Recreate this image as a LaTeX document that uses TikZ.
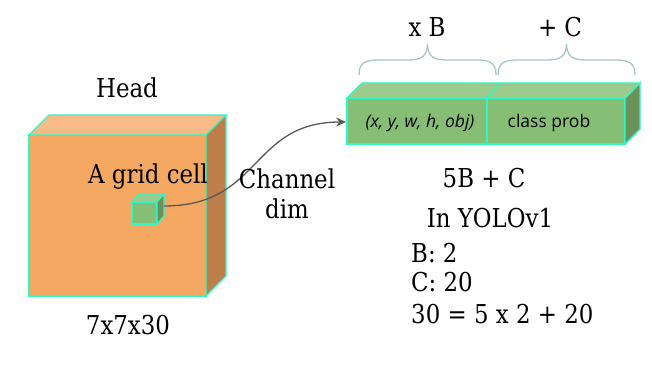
\documentclass[tikz,border=0pt]{standalone}
\usepackage{fontspec}
\setmainfont{DejaVu Serif}[FakeStretch=0.88]
\newfontfamily\opensans{Open Sans}
\usetikzlibrary{arrows.meta}
\definecolor{edgec}{HTML}{2EF7C6}
\definecolor{orF}{HTML}{F5A862}
\definecolor{orT}{HTML}{F8BA86}
\definecolor{orS}{HTML}{BE7F4B}
\definecolor{grF}{HTML}{86BE75}
\definecolor{grT}{HTML}{9CCB8D}
\definecolor{grS}{HTML}{6A9359}
\definecolor{bracec}{HTML}{A8C5CA}
\definecolor{arrc}{HTML}{595959}
\newcommand\mytxt{\fontsize{26}{30}\selectfont}
\newcommand\mysans{\opensans\fontsize{17.5}{20}\selectfont}
\tikzset{
  txt/.style={inner sep=0pt, font=\mytxt},
  sanstxt/.style={inner sep=0pt, font=\mysans},
  face/.style={draw=edgec, line width=1.4pt, line join=miter},
  bracepath/.style={draw=bracec, line width=1.3pt},
  conn/.style={draw=arrc, line width=1.3pt, -{Stealth[length=10pt,width=9pt,inset=3.5pt]}}
}
\begin{document}
\begin{tikzpicture}[x=1pt,y=-1pt]
\useasboundingbox (0,0) rectangle (652,366);
% big cube
\path[face, fill=orF] (29,135) rectangle (206,296);
\path[face, fill=orT] (29,135) -- (49,115) -- (226,115) -- (206,135) -- cycle;
\path[face, fill=orS] (206,135) -- (226,115) -- (226,276) -- (206,296) -- cycle;
% small cube
\path[face, fill=grF, line width=1.2pt] (132,202) rectangle (157,224);
\path[face, fill=grT, line width=1.2pt] (132,202) -- (139,194) -- (164,194) -- (157,202) -- cycle;
\path[face, fill=grS, line width=1.2pt] (157,202) -- (164,194) -- (164,216) -- (157,224) -- cycle;
% bar
\path[face, fill=grF] (347,98) rectangle (625,144);
\path[face, fill=grT] (347,98) -- (362,83) -- (640,83) -- (625,98) -- cycle;
\path[face, fill=grS] (625,98) -- (640,83) -- (640,129) -- (625,144) -- cycle;
\draw[face] (487,98) -- (487,144);
\draw[face] (487,98) -- (500,83);
% braces
\draw[bracepath] (359,75) .. controls (359,64) and (364,60) .. (378,60) -- (408,60) .. controls (422,60) and (427,56) .. (427.5,44) .. controls (428,56) and (433,60) .. (447,60) -- (477,60) .. controls (491,60) and (496,64) .. (496,75);
\draw[bracepath] (498,75) .. controls (498,64) and (503,60) .. (517,60) -- (547,60) .. controls (561,60) and (566,56) .. (566.5,44) .. controls (567,56) and (572,60) .. (586,60) -- (616,60) .. controls (630,60) and (635,64) .. (635,75);
% connector
\coordinate (cellR) at (164,206);
\coordinate (barL) at (346,122);
\draw[conn] (cellR) .. controls (262,206) and (250,122) .. (barL);
% texts
\node[txt] (head) at (127,88) {Head};
\node[txt] (cell) at (148,177) {A grid cell};
\node[txt, align=center] (chan) at (287,194) {Channel\\dim};
\node[txt] (dims) at (128,325) {7x7x30};
\node[txt] (xb) at (427,27) {x B};
\node[txt] (pc) at (560,27) {+ C};
\node[sanstxt, font=\mysans\itshape] (box) at (420,123) {(x, y, w, h, obj)};
\node[sanstxt] (cls) at (549,123) {class prob};
\node[txt] (sum) at (484,178) {5B + C};
\node[txt] (yolo) at (490,218) {In YOLOv1};
\node[txt, anchor=west] (bv) at (411,253) {B: 2};
\node[txt, anchor=west] (cv) at (411,282) {C: 20};
\node[txt, anchor=west] (eq) at (411,314) {30 = 5 x 2 + 20};
\end{tikzpicture}
\end{document}
